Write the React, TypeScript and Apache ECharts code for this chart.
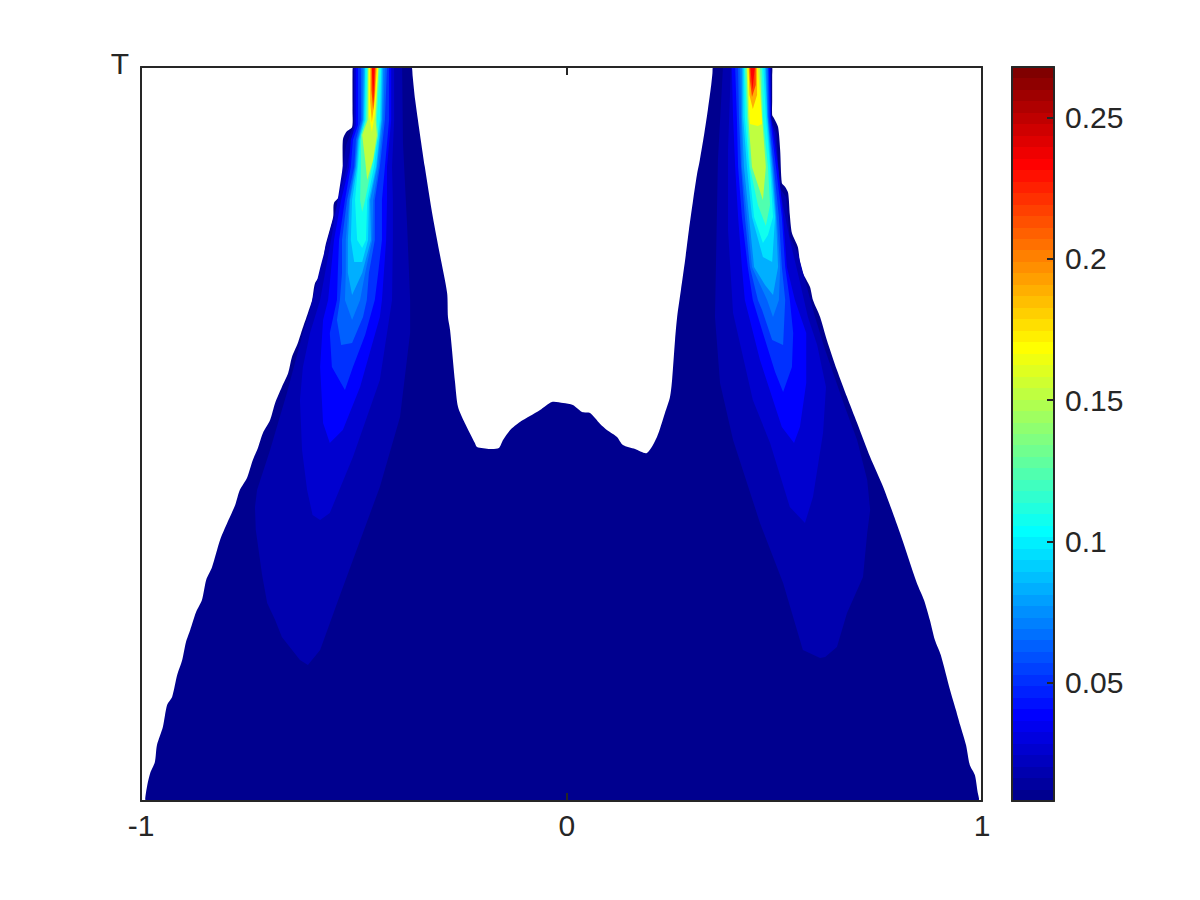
import React, { useEffect, useRef } from "react";
import * as echarts from "echarts";

// MATLAB jet(64)
const jet64 = [
  "#00008F","#00009F","#0000AF","#0000BF","#0000CF","#0000DF","#0000EF","#0000FF",
  "#0010FF","#0020FF","#0030FF","#0040FF","#0050FF","#0060FF","#0070FF","#0080FF",
  "#008FFF","#009FFF","#00AFFF","#00BFFF","#00CFFF","#00DFFF","#00EFFF","#00FFFF",
  "#10FFEF","#20FFDF","#30FFCF","#40FFBF","#50FFAF","#60FF9F","#70FF8F","#80FF80",
  "#8FFF70","#9FFF60","#AFFF50","#BFFF40","#CFFF30","#DFFF20","#EFFF10","#FFFF00",
  "#FFEF00","#FFDF00","#FFCF00","#FFBF00","#FFAF00","#FF9F00","#FF8F00","#FF8000",
  "#FF7000","#FF6000","#FF5000","#FF4000","#FF3000","#FF2000","#FF1000","#FF0000",
  "#EF0000","#DF0000","#CF0000","#BF0000","#AF0000","#9F0000","#8F0000","#800000",
];
const colorMin = 0.00814;
const colorMax = 0.2679;
const colorTicks = [0.05, 0.1, 0.15, 0.2, 0.25];
const xTicks = [-1, 0.0125, 1];
const xTickLabels = ["-1", "0", "1"];
const tMax = 734;

const silhouette = [
  [-.975,0],[-.988,0],[-.990,2],[-.985,16],[-.978,28],[-.967,39],[-.962,56],[-.948,74],[-.938,96],[-.926,104],[-.914,126],[-.902,141],
  [-.893,159],[-.883,171],[-.869,189],[-.855,201],[-.845,221],[-.831,234],[-.812,261],[-.795,278],[-.776,296],[-.765,311],
  [-.748,323],[-.734,341],[-.722,353],[-.710,368],[-.693,381],[-.681,398],[-.665,414],[-.650,428],[-.641,444],[-.627,458],
  [-.617,471],[-.603,488],[-.593,501],[-.586,518],[-.570,528],[-.562,554],[-.543,584],[-.541,598],[-.522,608],[-.520,661],
  [-.512,669],[-.498,674],[-.497,690],[-.497,725],[-.496,734],[-.490,736],[-.362,736],[-.356,734],[-.354,725],[-.348,701],[-.325,634],[-.306,584],[-.289,546],[-.272,508],[-.270,484],
  [-.265,471],[-.253,418],[-.246,394],[-.230,378],[-.206,358],[-.201,354],[-.170,352],[-.149,353],[-.139,361],[-.122,371],
  [-.099,379],[-.075,385],[-.051,391],[-.023,399],[.004,398],[.027,396],[.049,389],[.068,388],[.092,377],[.108,371],
  [.132,364],[.146,356],[.175,352],[.203,348],[.227,364],[.246,388],[.258,404],[.263,421],[.270,461],[.275,484],
  [.284,511],[.294,541],[.303,571],[.313,601],[.322,626],[.329,641],[.339,666],[.348,691],[.356,716],[.359,728],[.360,734],[.366,736],
  [.495,736],[.501,734],[.501,725],[.501,700],[.501,686],[.505,683],[.515,674],[.520,651],[.524,618],[.532,614],[.539,608],[.543,586],[.548,568],
  [.562,554],[.567,539],[.574,528],[.591,514],[.598,501],[.615,484],[.631,461],[.655,431],[.679,404],[.703,378],
  [.734,344],[.765,314],[.805,268],[.845,218],[.862,201],[.876,181],[.888,161],[.902,146],[.924,111],[.938,91],
  [.948,76],[.962,56],[.971,36],[.983,26],[.990,8],[.993,2],[.991,0],[.978,0],
];

// Left ridge: one closed contour per level
const leftA = [[-.603,136],[-.622,141],[-.665,164],[-.681,181],[-.700,198],[-.712,226],[-.727,271],[-.729,294],[-.724,311],[-.693,351],[-.677,374],[-.653,408],[-.615,468],[-.598,491],[-.574,533],[-.555,563],[-.534,596],[-.512,656],[-.494,676],[-.494,734],[-.379,734],[-.377,658],[-.367,574],[-.360,501],[-.360,468],[-.384,384],[-.432,314],[-.496,241],[-.531,201],[-.574,151]];
const leftB = [[-.574,281],[-.592,286],[-.605,311],[-.617,351],[-.622,401],[-.615,434],[-.598,468],[-.574,501],[-.548,561],[-.532,601],[-.510,634],[-.493,676],[-.493,734],[-.398,734],[-.398,681],[-.403,634],[-.401,601],[-.401,561],[-.403,501],[-.432,421],[-.496,344],[-.551,288]];
const leftC = [[-.551,358],[-.567,378],[-.574,434],[-.567,481],[-.555,501],[-.541,561],[-.524,601],[-.505,634],[-.501,661],[-.489,676],[-.489,734],[-.405,734],[-.405,681],[-.415,634],[-.415,601],[-.417,561],[-.427,501],[-.432,484],[-.479,414],[-.520,371]];
const leftD = [[-.515,411],[-.546,434],[-.551,468],[-.534,501],[-.532,528],[-.529,561],[-.515,601],[-.501,634],[-.496,661],[-.484,676],[-.484,734],[-.410,734],[-.410,681],[-.420,634],[-.427,601],[-.427,561],[-.436,528],[-.444,501],[-.467,466],[-.496,434]];
const leftE = [[-.524,456],[-.498,458],[-.472,484],[-.463,501],[-.458,528],[-.444,561],[-.444,601],[-.432,634],[-.420,681],[-.415,734],[-.477,734],[-.477,681],[-.489,661],[-.493,634],[-.510,601],[-.522,561],[-.522,528],[-.527,501],[-.534,481]];
const leftF = [[-.498,481],[-.515,501],[-.513,528],[-.513,561],[-.505,601],[-.491,634],[-.486,661],[-.474,681],[-.473,734],[-.420,734],[-.424,681],[-.435,634],[-.448,601],[-.450,561],[-.467,528],[-.479,501]];
const leftG = [[-.498,506],[-.508,528],[-.508,561],[-.503,601],[-.489,634],[-.484,661],[-.472,681],[-.470,734],[-.424,734],[-.427,681],[-.439,634],[-.455,601],[-.453,561],[-.474,528]];
const leftH = [[-.474,539],[-.493,539],[-.501,561],[-.498,601],[-.486,634],[-.482,661],[-.470,681],[-.467,734],[-.427,734],[-.429,681],[-.441,634],[-.458,601],[-.460,561]];
const leftI = [[-.474,553],[-.486,561],[-.491,601],[-.484,634],[-.479,661],[-.467,681],[-.466,734],[-.429,734],[-.432,681],[-.446,634],[-.462,601],[-.465,561]];
const leftJ = [[-.474,589],[-.479,601],[-.477,634],[-.477,666],[-.465,681],[-.462,734],[-.432,734],[-.439,681],[-.436,666],[-.451,634],[-.467,601]];
const leftK = [[-.462,621],[-.467,641],[-.474,666],[-.461,681],[-.460,734],[-.435,734],[-.442,681],[-.439,666],[-.448,641]];
const leftL = [[-.451,669],[-.458,686],[-.458,734],[-.436,734],[-.444,686]];
const leftM = [[-.451,679],[-.455,701],[-.455,734],[-.439,734],[-.444,701]];
const leftN = [[-.448,691],[-.452,711],[-.452,734],[-.442,734],[-.444,711]];
const leftO = [[-.448,701],[-.451,734],[-.444,734]];

// Right ridge
const rightA = [[.615,143],[.574,151],[.527,218],[.472,278],[.408,361],[.377,418],[.365,484],[.372,641],[.384,734],[.498,734],[.498,683],[.512,668],[.517,614],[.534,604],[.543,564],[.562,548],[.579,521],[.603,484],[.627,451],[.674,394],[.703,361],[.727,321],[.734,291],[.727,268],[.717,224],[.679,188],[.655,154],[.627,144]];
const rightB = [[.579,278],[.543,294],[.496,358],[.455,401],[.408,488],[.396,571],[.396,651],[.403,734],[.497,734],[.497,680],[.508,668],[.522,606],[.543,561],[.562,528],[.586,484],[.608,456],[.629,414],[.622,368],[.598,304]];
const rightC = [[.553,358],[.524,374],[.472,441],[.436,501],[.429,534],[.420,584],[.413,634],[.408,684],[.405,734],[.496,734],[.498,684],[.515,634],[.527,584],[.536,534],[.555,501],[.582,468],[.582,418],[.567,374]];
const rightD = [[.527,409],[.508,429],[.479,468],[.455,501],[.443,534],[.429,584],[.420,634],[.417,684],[.413,734],[.493,734],[.496,684],[.510,634],[.524,584],[.532,534],[.543,501],[.551,468],[.548,434]];
const rightE = [[.527,456],[.501,461],[.477,491],[.467,501],[.448,534],[.436,584],[.427,634],[.422,684],[.420,734],[.491,734],[.493,684],[.505,634],[.517,584],[.524,534],[.532,501]];
const rightF = [[.503,484],[.489,501],[.453,534],[.441,584],[.429,634],[.427,684],[.425,734],[.489,734],[.491,684],[.503,634],[.512,584],[.520,534],[.517,501]];
const rightG = [[.503,506],[.484,516],[.458,534],[.446,584],[.434,634],[.429,684],[.429,734],[.486,734],[.490,684],[.501,634],[.510,584],[.515,534]];
const rightH = [[.501,539],[.479,544],[.453,584],[.441,634],[.432,684],[.432,734],[.484,734],[.489,684],[.498,634],[.508,584]];
const rightI = [[.479,558],[.458,584],[.446,634],[.436,684],[.434,734],[.480,734],[.486,684],[.496,634],[.503,584],[.491,566]];
const rightJ = [[.486,575],[.467,596],[.448,634],[.441,684],[.436,734],[.477,734],[.479,684],[.491,634],[.496,596]];
const rightK = [[.479,601],[.453,634],[.444,684],[.440,734],[.472,734],[.477,684],[.486,634]];
const rightL = [[.467,675],[.448,677],[.446,696],[.442,734],[.467,734],[.474,696],[.477,677]];
const rightM = [[.455,692],[.447,706],[.445,734],[.465,734],[.465,706]];
const rightN = [[.453,704],[.448,721],[.447,734],[.462,734],[.462,716]];
const rightO = [[.454,711],[.449,734],[.460,734]];

const levelValues = [0.0183,0.0264,0.0386,0.0508,0.063,0.0711,0.0832,0.0954,0.1076,0.1238,0.1523,0.1685,0.1888,0.2172,0.2335];
const leftContours = [leftA,leftB,leftC,leftD,leftE,leftF,leftG,leftH,leftI,leftJ,leftK,leftL,leftM,leftN,leftO];
const rightContours = [rightA,rightB,rightC,rightD,rightE,rightF,rightG,rightH,rightI,rightJ,rightK,rightL,rightM,rightN,rightO];

const ink = "#262626";
const font = "Liberation Sans";
const colorOf = (v: number) => {
  const i = Math.floor(((v - colorMin) / (colorMax - colorMin)) * 64);
  return jet64[Math.max(0, Math.min(63, i))];
};

const regions: { points: number[][]; color: string; smooth: number }[] = [
  { points: silhouette, color: jet64[0], smooth: 0.25 },
  ...levelValues.flatMap((v, k) => [
    { points: leftContours[k], color: colorOf(v), smooth: 0 },
    { points: rightContours[k], color: colorOf(v), smooth: 0 },
  ]),
];

const bandStep = (colorMax - colorMin) / 64;
const bands = jet64.map((c, i) => ({ low: colorMin + i * bandStep, high: colorMin + (i + 1) * bandStep, color: c }));

const lineStyle = { color: ink, width: 2 };
const labelFont = { color: ink, fontSize: 30, fontFamily: font };

export default function App() {
  const ref = useRef<HTMLDivElement>(null);
  useEffect(() => {
    const chart = echarts.init(ref.current!, undefined, { renderer: "svg" });
    const xLabelOf = (v: number) => xTickLabels[xTicks.indexOf(v)] ?? "";
    chart.setOption({
      animation: false,
      backgroundColor: "#fff",
      textStyle: { fontFamily: font },
      grid: [
        { left: 141, top: 67, width: 841, height: 734 },
        { left: 1012, top: 67, width: 42, height: 734 },
      ],
      xAxis: [
        {
          type: "value", gridIndex: 0, position: "bottom", min: -1, max: 1, z: 10, splitLine: { show: false },
          axisLine: { lineStyle, onZero: false },
          axisTick: { show: true, inside: true, length: 8, lineStyle, customValues: xTicks },
          axisLabel: { show: true, customValues: xTicks, formatter: xLabelOf, ...labelFont, margin: 9 },
        },
        {
          type: "value", gridIndex: 0, position: "top", min: -1, max: 1, z: 10, splitLine: { show: false },
          axisLine: { lineStyle, onZero: false },
          axisTick: { show: true, inside: true, length: 8, lineStyle, customValues: xTicks },
          axisLabel: { show: false },
        },
        {
          type: "value", gridIndex: 1, position: "bottom", min: 0, max: 1, z: 10, splitLine: { show: false },
          axisLine: { lineStyle, onZero: false }, axisTick: { show: false }, axisLabel: { show: false },
        },
        {
          type: "value", gridIndex: 1, position: "top", min: 0, max: 1, z: 10, splitLine: { show: false },
          axisLine: { lineStyle, onZero: false }, axisTick: { show: false }, axisLabel: { show: false },
        },
      ],
      yAxis: [
        {
          type: "value", gridIndex: 0, position: "left", min: 0, max: tMax, z: 10, splitLine: { show: false },
          axisLine: { show: true, lineStyle, onZero: false },
          axisTick: { show: false },
          axisLabel: { show: true, customValues: [tMax], formatter: () => "T", ...labelFont, margin: 12, verticalAlign: "bottom", lineHeight: 8 },
        },
        {
          type: "value", gridIndex: 0, position: "right", min: 0, max: tMax, z: 10, splitLine: { show: false },
          axisLine: { show: true, lineStyle, onZero: false }, axisTick: { show: false }, axisLabel: { show: false },
        },
        {
          type: "value", gridIndex: 1, position: "left", min: colorMin, max: colorMax, z: 10, splitLine: { show: false },
          axisLine: { show: true, lineStyle, onZero: false }, axisTick: { show: false }, axisLabel: { show: false },
        },
        {
          type: "value", gridIndex: 1, position: "right", min: colorMin, max: colorMax, z: 10, splitLine: { show: false },
          axisLine: { show: true, lineStyle, onZero: false },
          axisTick: { show: true, inside: true, length: 7, lineStyle, customValues: colorTicks },
          axisLabel: { show: true, customValues: colorTicks, ...labelFont, margin: 11 },
        },
      ],
      series: [
        {
          type: "custom",
          xAxisIndex: 0,
          yAxisIndex: 0,
          clip: true,
          data: regions.map((_, i) => [i]),
          encode: { x: -1, y: -1 },
          renderItem: (params: any, api: any) => {
            const r = regions[api.value(0)];
            return {
              type: "polygon",
              shape: { points: r.points.map((p) => api.coord(p)), smooth: r.smooth },
              style: { fill: r.color },
            };
          },
        },
        {
          type: "custom",
          xAxisIndex: 2,
          yAxisIndex: 2,
          data: bands.map((_, i) => [i]),
          encode: { x: -1, y: -1 },
          renderItem: (params: any, api: any) => {
            const b = bands[api.value(0)];
            const a = api.coord([0, b.high]);
            const c = api.coord([1, b.low]);
            const top = Math.round(a[1]);
            const bottom = Math.round(c[1]);
            return {
              type: "rect",
              shape: { x: a[0], y: top, width: c[0] - a[0], height: bottom - top },
              style: { fill: b.color },
            };
          },
        },
      ],
    });
    return () => chart.dispose();
  }, []);
  return <div ref={ref} style={{ position: "fixed", left: 0, top: 0, width: 1200, height: 900, background: "#fff" }} />;
}
